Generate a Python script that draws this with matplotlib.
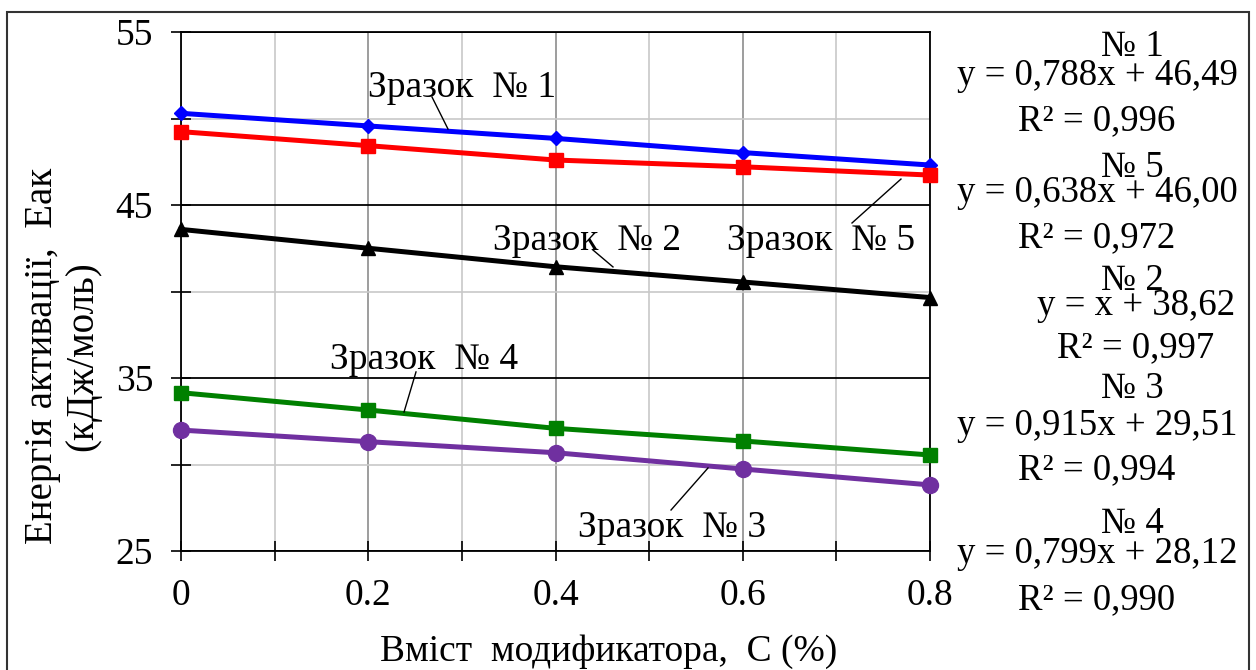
import numpy as np
import matplotlib
matplotlib.use('Agg')
import matplotlib.pyplot as plt
from matplotlib.ticker import MultipleLocator, FixedLocator
from matplotlib.patches import Rectangle

plt.rcParams['font.family'] = ['Liberation Serif', 'DejaVu Serif']

W, H = 1256, 670

# data
content = [0, 0.2, 0.4, 0.6, 0.8]
sample1 = [50.30, 49.57, 48.85, 48.03, 47.31]
sample5 = [49.24, 48.43, 47.60, 47.21, 46.73]
sample2 = [43.59, 42.50, 41.43, 40.55, 39.65]
sample4 = [34.15, 33.15, 32.09, 31.36, 30.55]
sample3 = [31.99, 31.32, 30.68, 29.74, 28.82]

series = [
    (sample1, '#0000FF', 'D', 7.5),
    (sample5, '#FF0000', 's', 10.5),
    (sample2, '#000000', '^', 10),
    (sample4, '#008000', 's', 10),
    (sample3, '#7030A0', 'o', 11.5),
]

labels = ['Зразок  № 1', 'Зразок  № 2', 'Зразок  № 5', 'Зразок  № 4', 'Зразок  № 3']
# (text x, text y, leader start, leader end) in data units
label_pos = [
    (0.1998, 51.24, (0.2681, 51.24), (0.2852, 49.39)),
    (0.3333, 42.40, (0.4400, 42.40), (0.4614, 41.42)),
    (0.5832, 42.40, (0.7167, 43.96), (0.7690, 46.50)),
    (0.1592, 35.52, (0.2510, 35.35), (0.2382, 33.03)),
    (0.4240, 25.81, (0.5234, 27.37), (0.5629, 29.80)),
]

fit_names = ['№ 1', '№ 5', '№ 2', '№ 3', '№ 4']
fit_eqs = ['y = 0,788x + 46,49', 'y = 0,638x + 46,00', 'y = x + 38,62',
           'y = 0,915x + 29,51', 'y = 0,799x + 28,12']
fit_r2 = ['R² = 0,996', 'R² = 0,972', 'R² = 0,997', 'R² = 0,994', 'R² = 0,990']


def px(x, y):
    return x / W, 1 - y / H


fig = plt.figure(figsize=(W / 100, H / 100), dpi=100)
ax = fig.add_axes([181 / W, 1 - 551 / H, (930 - 181) / W, (551 - 32) / H])

for vals, col, mk, ms in series:
    ax.plot(content, vals, color=col, lw=3.6, marker=mk, ms=ms,
            mec=col, mfc=col, zorder=5, clip_on=False)

ax.set_xlim(0, 0.8)
ax.set_ylim(25, 55)
ax.xaxis.set_minor_locator(MultipleLocator(0.1))
ax.set_xticks(content)
ax.set_xticklabels(['0', '0.2', '0.4', '0.6', '0.8'])
ax.yaxis.set_major_locator(FixedLocator([25, 35, 45, 55]))
ax.yaxis.set_minor_locator(FixedLocator([30, 40, 50]))

ax.grid(which='major', axis='x', color='#8c8c8c', lw=1.2)
ax.grid(which='minor', axis='x', color='#c8c8c8', lw=1.2)
ax.grid(which='major', axis='y', color='black', lw=1.3)
ax.grid(which='minor', axis='y', color='#c8c8c8', lw=1.2)
ax.set_axisbelow(True)

ax.tick_params(which='both', direction='inout', length=14, width=1.2,
               labelsize=27, pad=13)
for s in ax.spines.values():
    s.set_linewidth(1.3)
    s.set_color('black')

for txt, (tx, ty, p0, p1) in zip(labels, label_pos):
    ax.text(tx, ty, txt, fontsize=27, ha='left', va='baseline', zorder=6)
    ax.plot([p0[0], p1[0]], [p0[1], p1[1]], color='black', lw=1.0, zorder=6)

fig.text(*px(609, 652), 'Вміст  модификатора,  С (%)', fontsize=27,
         ha='center', va='center')
fig.text(*px(63, 356), 'Енергія активації,  Еак\n(кДж/моль)', rotation=90,
         fontsize=28, ha='center', va='center', linespacing=1.12,
         multialignment='center')

# trend-line captions at the right
name_base = [56, 177, 290, 398, 533]
eq_base = [85, 202, 315, 435, 563]
r2_base = [130, 247, 357, 479, 609]
eq_x = [1097, 1097, 1136, 1097, 1097]
for i in range(5):
    fig.text(*px(1132, name_base[i]), fit_names[i], fontsize=26.5,
             ha='center', va='baseline')
    fig.text(*px(eq_x[i], eq_base[i]), fit_eqs[i], fontsize=26.5,
             ha='center', va='baseline')
    fig.text(*px(eq_x[i], r2_base[i]), fit_r2[i], fontsize=26.5,
             ha='center', va='baseline')

fig.patches.append(Rectangle(px(7, 690), (1249 - 7) / W, (690 - 12) / H,
                             transform=fig.transFigure, fill=False,
                             edgecolor='#333333', lw=1.5))

fig.savefig('out.png', dpi=100)
